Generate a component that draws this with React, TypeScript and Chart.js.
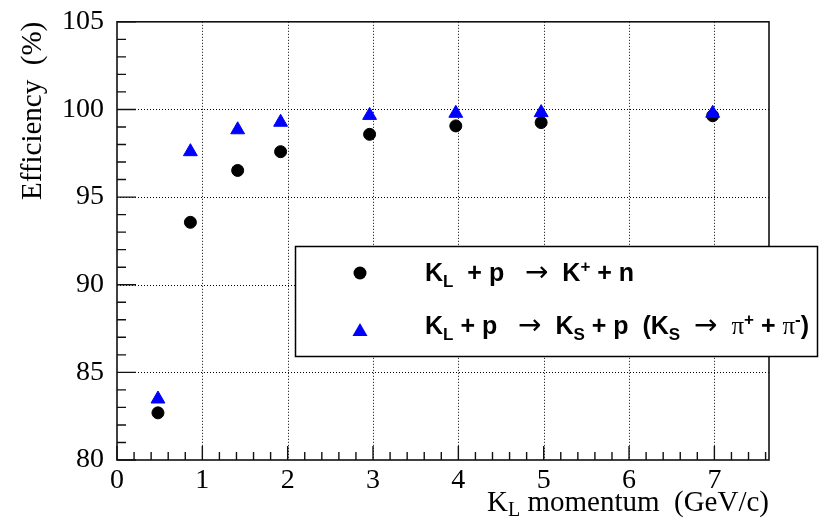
import React, { useEffect, useRef } from 'react';
import { Chart, registerables } from 'chart.js';

Chart.register(...registerables);

// ---- data ----
const momentumGeV = [0.48, 0.86, 1.414, 1.917, 2.96, 3.97, 4.97, 6.98];
const effKplusN = [82.69, 93.56, 96.52, 97.59, 98.58, 99.06, 99.25, 99.64];
const effKsP = [83.48, 97.59, 98.84, 99.27, 99.66, 99.78, 99.82, 99.78];
const xTickValues = [0, 1, 2, 3, 4, 5, 6, 7];
const yTickValues = [80, 85, 90, 95, 100, 105];
const X_MIN = 0;
const X_MAX = 7.64;
const Y_MIN = 80;
const Y_MAX = 105;
const yTitle = 'Efficiency  (%)';
const xTitleMain = 'K';
const xTitleSub = 'L';
const xTitleRest = ' momentum  (GeV/c)';

const W = 819;
const H = 527;

type Seg = { t: string; k: 'b' | 'sub' | 'sup' | 'arrow' | 'pi' };
const legendRow1: Seg[] = [
  { t: 'K', k: 'b' }, { t: 'L', k: 'sub' }, { t: '  + p   ', k: 'b' }, { t: '\u2192', k: 'arrow' },
  { t: '  K', k: 'b' }, { t: '+', k: 'sup' }, { t: ' + n', k: 'b' },
];
const legendRow2: Seg[] = [
  { t: 'K', k: 'b' }, { t: 'L', k: 'sub' }, { t: ' + p   ', k: 'b' }, { t: '\u2192', k: 'arrow' },
  { t: '  K', k: 'b' }, { t: 'S', k: 'sub' }, { t: ' + p  (K', k: 'b' }, { t: 'S', k: 'sub' },
  { t: '  ', k: 'b' }, { t: '\u2192', k: 'arrow' }, { t: '  ', k: 'b' }, { t: '\u03c0', k: 'pi' },
  { t: '+', k: 'sup' }, { t: ' + ', k: 'b' }, { t: '\u03c0', k: 'pi' }, { t: '-', k: 'sup' }, { t: ')', k: 'b' },
];

const FS = 25;
const fontFor = (k: Seg['k']) => {
  switch (k) {
    case 'b': return `bold ${FS}px "Liberation Sans"`;
    case 'sub':
    case 'sup': return `bold ${Math.round(FS * 0.68)}px "Liberation Sans"`;
    case 'arrow': return `${FS + 3}px "DejaVu Sans"`;
    case 'pi': return `${FS}px "Liberation Serif"`;
  }
};
const dyFor = (k: Seg['k']) => (k === 'sub' ? 6 : k === 'sup' ? -9 : 0);

function drawRich(ctx: CanvasRenderingContext2D, x: number, baseline: number, segs: Seg[]) {
  let cx = x;
  ctx.textAlign = 'left';
  ctx.textBaseline = 'alphabetic';
  for (const s of segs) {
    ctx.font = fontFor(s.k);
    ctx.fillText(s.t, cx, baseline + dyFor(s.k));
    cx += ctx.measureText(s.t).width;
  }
}

const rootPlugin = {
  id: 'rootStyle',
  beforeDatasetsDraw(chart: any) {
    const { ctx, chartArea: a, scales } = chart;
    const x = scales.x, y = scales.y;
    ctx.save();
    ctx.strokeStyle = '#000';
    ctx.lineWidth = 1;
    ctx.setLineDash([1, 2]);
    for (const v of xTickValues) {
      if (v <= X_MIN || v >= X_MAX) continue;
      const px = Math.round(x.getPixelForValue(v)) + 0.5;
      ctx.beginPath(); ctx.moveTo(px, a.top); ctx.lineTo(px, a.bottom); ctx.stroke();
    }
    for (const v of yTickValues) {
      if (v <= Y_MIN || v >= Y_MAX) continue;
      const py = Math.round(y.getPixelForValue(v)) + 0.5;
      ctx.beginPath(); ctx.moveTo(a.left, py); ctx.lineTo(a.right, py); ctx.stroke();
    }
    ctx.restore();
  },
  afterDraw(chart: any) {
    const { ctx, chartArea: a, scales } = chart;
    const x = scales.x, y = scales.y;
    ctx.save();
    // frame
    ctx.strokeStyle = '#111';
    ctx.lineWidth = 1.6;
    ctx.strokeRect(a.left, a.top, a.right - a.left, a.bottom - a.top);
    // ticks (inward)
    ctx.lineWidth = 1.4;
    ctx.beginPath();
    for (let v = X_MIN; v <= X_MAX + 1e-9; v += 0.2) {
      const vv = Math.round(v * 10) / 10;
      const major = Math.abs(vv - Math.round(vv)) < 1e-6;
      const px = x.getPixelForValue(vv);
      ctx.moveTo(px, a.bottom);
      ctx.lineTo(px, a.bottom - (major ? 14 : 8));
    }
    for (let v = Y_MIN; v <= Y_MAX; v += 1) {
      const major = v % 5 === 0;
      const py = y.getPixelForValue(v);
      ctx.moveTo(a.left, py);
      ctx.lineTo(a.left + (major ? 19 : 9), py);
    }
    ctx.stroke();

    // x tick labels
    ctx.fillStyle = '#000';
    ctx.font = '28px "Liberation Serif"';
    ctx.textAlign = 'center';
    ctx.textBaseline = 'alphabetic';
    for (const v of xTickValues) {
      ctx.fillText(String(v), x.getPixelForValue(v), 488);
    }

    // axis titles
    ctx.save();
    ctx.translate(33, a.top);
    ctx.rotate(-Math.PI / 2);
    ctx.font = '29px "Liberation Serif"';
    ctx.textAlign = 'right';
    ctx.textBaseline = 'middle';
    ctx.fillText(yTitle, 0, 0);
    ctx.restore();

    ctx.textBaseline = 'alphabetic';
    ctx.textAlign = 'left';
    ctx.font = '29px "Liberation Serif"';
    const wK = ctx.measureText(xTitleMain).width;
    const wRest = ctx.measureText(xTitleRest).width;
    ctx.font = '20px "Liberation Serif"';
    const wL = ctx.measureText(xTitleSub).width;
    const x0 = a.right - (wK + wL + wRest);
    ctx.font = '29px "Liberation Serif"';
    ctx.fillText(xTitleMain, x0, 511);
    ctx.fillText(xTitleRest, x0 + wK + wL, 511);
    ctx.font = '20px "Liberation Serif"';
    ctx.fillText(xTitleSub, x0 + wK, 516);

    // legend box
    const lx = 295, ly = 246, lw = 523, lh = 111;
    ctx.fillStyle = '#fff';
    ctx.fillRect(lx, ly, lw, lh);
    ctx.strokeStyle = '#000';
    ctx.lineWidth = 1.5;
    ctx.strokeRect(lx + 0.5, ly + 0.5, lw - 1, lh - 1);
    // legend markers
    ctx.fillStyle = '#000';
    ctx.beginPath(); ctx.arc(360, 273, 6.5, 0, Math.PI * 2); ctx.fill();
    ctx.fillStyle = '#0000ff';
    ctx.beginPath();
    ctx.moveTo(360, 323); ctx.lineTo(367.5, 336); ctx.lineTo(352.5, 336); ctx.closePath(); ctx.fill();
    // legend text
    ctx.fillStyle = '#000';
    drawRich(ctx, 425, 281, legendRow1);
    drawRich(ctx, 425, 334, legendRow2);
    ctx.restore();
  },
};

export default function App() {
  const ref = useRef<HTMLCanvasElement>(null);
  useEffect(() => {
    const chart = new Chart(ref.current as HTMLCanvasElement, {
      type: 'scatter',
      data: {
        datasets: [
          {
            label: 'K_L + p -> K+ + n',
            data: momentumGeV.map((m, i) => ({ x: m, y: effKplusN[i] })),
            pointStyle: 'circle',
            pointRadius: 6,
            backgroundColor: '#000',
            borderColor: '#000',
            borderWidth: 1,
            order: 1,
          },
          {
            label: 'K_L + p -> K_S + p (K_S -> pi+ + pi-)',
            data: momentumGeV.map((m, i) => ({ x: m, y: effKsP[i] })),
            pointStyle: 'triangle',
            pointRadius: 8,
            backgroundColor: '#0000ff',
            borderColor: '#0000ff',
            borderWidth: 1,
            order: 0,
          },
        ],
      },
      options: {
        responsive: false,
        animation: false,
        devicePixelRatio: 1,
        events: [],
        layout: { padding: { top: 17, right: 50, left: 0, bottom: 0 } },
        plugins: { legend: { display: false }, tooltip: { enabled: false } },
        scales: {
          x: {
            type: 'linear',
            min: X_MIN,
            max: X_MAX,
            afterBuildTicks: (s: any) => { s.ticks = xTickValues.map((v) => ({ value: v })); },
            afterFit: (s: any) => { s.height = 67; },
            grid: { display: false },
            border: { display: false },
            ticks: { display: false },
          },
          y: {
            type: 'linear',
            min: Y_MIN,
            max: Y_MAX,
            afterBuildTicks: (s: any) => { s.ticks = yTickValues.map((v) => ({ value: v })); },
            afterFit: (s: any) => { s.width = 117; },
            grid: { display: false },
            border: { display: false },
            ticks: {
              stepSize: 5,
              padding: 5,
              color: '#000',
              font: { family: 'Liberation Serif', size: 28 },
            },
          },
        },
      },
      plugins: [rootPlugin],
    } as any);
    return () => chart.destroy();
  }, []);
  return (
    <div style={{ position: 'absolute', left: 0, top: 0, width: W, height: H, background: '#fff' }}>
      <canvas ref={ref} width={W} height={H} style={{ display: 'block', width: W, height: H }} />
    </div>
  );
}
